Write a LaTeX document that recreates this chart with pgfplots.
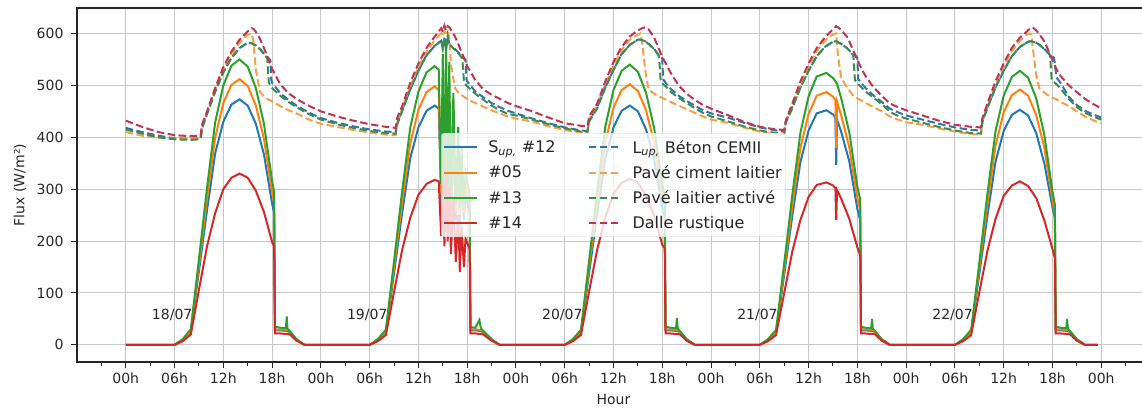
\documentclass[border=0pt]{standalone}
\usepackage{fontspec}
\setmainfont{DejaVu Sans}
\usepackage{pgfplots}
\usepackage{pgfplotstable}
\pgfplotsset{compat=1.18}
\definecolor{cb}{HTML}{1F77B4}
\definecolor{co}{HTML}{FF7F0E}
\definecolor{cg}{HTML}{2CA02C}
\definecolor{cr}{HTML}{D62728}
\definecolor{db}{HTML}{3572A8}
\definecolor{do}{HTML}{F5A048}
\definecolor{dg}{HTML}{3B8C52}
\definecolor{dr}{HTML}{C2334F}

\pgfplotstableread{
h b o g r
0 0 0 0 0
6 0 0 0 0
7 9 9 11 7
8 25 26 30 20
9 142 154 165 106
10 260 282 303 190
11 369 399 429 254
12 430 466 500 300
13 463 501 538 322
14 473 512 550 330
15 461 499 536 322
16 426 461 495 297
17 367 397 426 256
18 272 294 316 198
18.25 255 275 295 190
18.35 28 30 35 22
19 28 30 33 22
19.7 27 29 32 21
19.8 27 29 55 21
19.9 27 29 31 21
20.2 24 25 26 20
21 10 10 11 8
22 0 0 0 0
30 0 0 0 0
31 9 9 11 7
32 24 25 29 19
33 138 150 161 102
34 254 274 296 183
35 360 388 419 245
36 419 453 488 289
37 451 487 525 310
38 461 498 537 318
38.5 455 491 530 315
38.8 270 290 310 210
39.0 468 505 560 322
39.2 240 255 270 190
39.4 478 512 590 328
39.6 250 270 290 200
39.8 440 480 545 305
40.0 235 250 260 175
40.3 400 438 485 285
40.6 240 255 270 160
40.9 350 380 420 250
41.1 235 250 265 140
41.3 330 350 380 230
41.6 240 255 270 150
41.8 290 305 330 205
42.3 255 270 290 185
42.4 28 30 34 22
43 28 30 33 22
43.5 27 29 48 21
43.7 27 29 31 21
44 24 25 27 20
45 10 10 11 8
46 0 0 0 0
54 0 0 0 0
55 9 9 11 7
56 24 25 29 19
57 138 151 162 103
58 254 276 298 184
59 360 391 421 246
60 419 457 491 291
61 451 491 528 312
62 461 502 540 320
63 450 489 526 312
64 415 452 486 288
65 358 389 418 248
66 265 288 310 193
66.3 245 266 287 186
66.4 28 30 35 22
67 28 30 33 22
67.7 27 29 32 21
67.8 27 29 52 21
67.9 27 29 31 21
68.2 24 25 26 20
69 10 10 11 8
70 0 0 0 0
78 0 0 0 0
79 9 9 11 7
80 24 25 29 19
81 135 146 157 100
82 249 268 289 180
83 353 380 409 241
84 413 445 479 285
85 446 480 517 308
86.2 452 487 524 313
87 444 478 514 307
87.3 438 472 508 302
87.4 347 379 505 241
87.5 434 468 503 298
88 411 443 476 282
89 354 381 410 243
90 262 283 305 188
90.35 240 260 280 172
90.45 28 30 35 22
91 28 30 33 22
91.7 27 29 32 21
91.8 27 29 50 21
91.9 27 29 31 21
92.2 24 25 26 20
93 10 10 11 8
94 0 0 0 0
102 0 0 0 0
103 9 9 11 7
104 24 25 29 19
105 136 148 158 101
106 249 271 291 181
107 353 384 412 243
108 412 448 480 287
109 443 481 516 307
110 453 492 528 315
111 442 480 515 306
112 408 443 475 283
113 350 380 405 240
114 265 280 295 185
114.3 244 250 270 167
114.4 28 30 35 22
115 28 30 33 22
115.7 27 29 32 21
115.8 27 29 50 21
115.9 27 29 31 21
116.2 24 25 26 20
117 10 10 11 8
118 0 0 0 0
119.6 0 0 0 0
}\solid

\pgfplotstableread{
h b o g r
0 418 410 415 432
2 410 403 407 420
4 403 399 400 410
6 398 397 396 404
8 397 396 395 402
9.2 398 397 396 403
9.4 420 420 418 425
10 446 448 445 450
11 488 492 488 495
12 525 530 525 535
13 553 560 553 565
14 572 582 572 588
15 582 598 582 604
15.5 581 600 581 610
15.7 579 585 579 609
16 577 530 577 603
16.5 570 488 570 590
17 561 478 560 572
17.4 554 474 552 556
17.6 552 472 505 548
17.8 548 471 500 540
17.9 510 470 497 536
18 505 469 495 532
19 485 460 480 502
20 472 452 468 485
21 461 446 458 474
22 452 438 449 465
23 444 431 441 457
24 437 426 434 450
26 428 420 425 440
28 421 414 418 432
30 415 409 412 425
32 411 405 408 420
33.2 410 404 407 418
33.4 428 428 425 438
34 452 455 450 460
35 492 498 492 505
36 528 535 528 542
37 558 565 558 572
38 576 587 576 594
38.8 586 600 586 610
39.0 575 595 570 603
39.2 590 605 592 615
39.4 570 600 568 606
39.6 592 604 595 614
39.8 580 592 578 612
40.0 576 540 576 607
40.5 570 495 568 594
41 562 484 560 576
41.4 555 480 552 560
41.6 553 478 508 553
41.8 549 476 503 545
41.9 512 475 500 541
42 508 473 498 537
43 488 466 484 510
44 477 459 472 492
45 466 452 461 482
46 458 446 452 474
47 451 440 445 466
48 446 436 442 460
50 436 430 434 450
52 427 421 425 438
54 419 414 417 427
56 413 409 411 422
56.8 412 408 411 421
57.0 432 435 430 440
58 458 462 456 465
59 496 502 496 508
60 530 538 530 545
61 560 568 560 574
62 578 588 578 594
63 588 598 588 606
63.3 588 600 588 608
63.5 587 585 587 610
63.9 585 530 585 612
64.3 580 492 580 608
65 570 484 570 592
65.6 558 479 556 570
65.8 555 477 510 562
66 552 476 505 555
66.1 512 475 502 552
66.5 503 472 497 540
67 494 468 488 525
68 480 461 476 500
69 470 454 466 484
70 461 447 456 472
71 452 440 447 462
72 446 434 440 455
74 438 428 431 443
76 428 419 421 430
78 419 411 413 420
80 413 405 408 415
81.0 412 404 407 414
81.2 430 432 428 432
82 458 462 456 465
83 496 502 496 508
84 528 536 528 542
85 556 566 556 572
86 574 586 574 592
87 584 598 584 608
87.4 585 600 585 614
87.6 583 560 583 612
88 580 515 580 607
88.7 572 496 572 594
89 567 490 567 585
89.5 560 480 558 567
89.7 557 477 510 560
90 553 475 505 550
90.1 512 474 502 546
90.5 504 471 496 532
91 495 466 488 518
92 480 458 476 496
93 468 450 464 480
94 455 440 449 465
95 448 434 441 458
96 442 429 436 452
98 434 424 428 442
100 426 417 420 432
102 419 411 413 424
104 414 406 408 420
105.2 413 405 407 419
105.4 432 435 430 438
106 458 462 456 465
107 496 502 496 508
108 528 536 528 542
109 556 566 556 572
110 574 586 574 592
111 584 600 584 606
111.4 585 598 585 612
111.6 584 570 584 611
112 582 520 582 606
112.4 578 494 578 598
113 570 486 570 585
113.7 560 478 558 560
113.9 557 476 512 552
114.2 553 475 506 541
114.5 515 473 502 531
115 505 468 494 518
116 478 460 474 500
117 462 450 458 487
118 451 440 447 474
119 444 433 440 464
120 438 427 434 456
}\dashed

\tikzset{sl/.style={line width=2pt}, dl/.style={line width=2pt, dash pattern=on 7.5pt off 3.5pt}}

\begin{document}
\begin{tikzpicture}
\begin{axis}[
  at={(0,0)}, anchor=south west, scale only axis,
  width=1073pt, height=354pt,
  xmin=-6, xmax=126, ymin=-33, ymax=649,
  xtick={0,6,...,120},
  xticklabels={00h,06h,12h,18h,00h,06h,12h,18h,00h,06h,12h,18h,00h,06h,12h,18h,00h,06h,12h,18h,00h},
  minor xtick={-3,3,...,123},
  ytick={0,100,...,600},
  tick pos=left, tick align=outside,
  major tick length=6pt, minor tick length=3.5pt,
  every tick/.append style={black!85, line width=1pt},
  grid=major, major grid style={color=black!22, line width=1pt},
  axis line style={line width=1.1pt, black!85},
  tick label style={font=\fontsize{14}{16}\selectfont, text=black!85},
  yticklabel style={xshift=-4pt},
  xticklabel style={yshift=-1.5pt},
  /pgf/number format/assume math mode=true,
  xlabel={Hour}, ylabel={Flux (W/m²)},
  label style={font=\fontsize{14}{16}\selectfont, text=black!85},
  xlabel style={at={(axis description cs:0.5,-0.107)}, anchor=center},
  ylabel style={at={(axis description cs:-0.0531,0.5)}, anchor=center},
  no markers,
  legend columns=2,
  legend cell align=left,
  legend image code/.code={\draw[#1] (0pt,0pt) -- (33pt,0pt);},
  legend style={at={(0.5,0.5)}, anchor=center,
    font=\fontsize{16}{18}\selectfont, text=black!85,
    draw=black!20, rounded corners=3pt, fill=white, fill opacity=0.8,
    draw opacity=1, text opacity=1, inner xsep=2pt, inner ysep=5pt,
    row sep=7pt,
    /tikz/every odd column/.append style={column sep=8pt},
    /tikz/every even column/.append style={column sep=30pt}},
]
\addplot[cb, sl, forget plot] table[x=h, y=b] {\solid};
\addplot[co, sl, forget plot] table[x=h, y=o] {\solid};
\addplot[cg, sl, forget plot] table[x=h, y=g] {\solid};
\addplot[cr, sl, forget plot] table[x=h, y=r] {\solid};
\addplot[db, dl, forget plot] table[x=h, y=b] {\dashed};
\addplot[do, dl, forget plot] table[x=h, y=o] {\dashed};
\addplot[dg, dl, forget plot] table[x=h, y=g] {\dashed};
\addplot[dr, dl, forget plot] table[x=h, y=r] {\dashed};

\addlegendimage{cb, sl}
\addlegendentry{S\textsubscript{\textit{up,}} \#12}
\addlegendimage{db, dl}
\addlegendentry{L\textsubscript{\textit{up,}} Béton CEMII}
\addlegendimage{co, sl}
\addlegendentry{\#05}
\addlegendimage{do, dl}
\addlegendentry{Pavé ciment laitier}
\addlegendimage{cg, sl}
\addlegendentry{\#13}
\addlegendimage{dg, dl}
\addlegendentry{Pavé laitier activé}
\addlegendimage{cr, sl}
\addlegendentry{\#14}
\addlegendimage{dr, dl}
\addlegendentry{Dalle rustique}

\node[anchor=base west, inner sep=0pt, font=\fontsize{14}{16}\selectfont, text=black!85] at (axis cs:3.2,48) {18/07};
\node[anchor=base west, inner sep=0pt, font=\fontsize{14}{16}\selectfont, text=black!85] at (axis cs:27.2,48) {19/07};
\node[anchor=base west, inner sep=0pt, font=\fontsize{14}{16}\selectfont, text=black!85] at (axis cs:51.2,48) {20/07};
\node[anchor=base west, inner sep=0pt, font=\fontsize{14}{16}\selectfont, text=black!85] at (axis cs:75.2,48) {21/07};
\node[anchor=base west, inner sep=0pt, font=\fontsize{14}{16}\selectfont, text=black!85] at (axis cs:99.2,48) {22/07};
\end{axis}
\pgfresetboundingbox
\path[use as bounding box] (-77pt,-50pt) rectangle (1065pt,362pt);
\end{tikzpicture}
\end{document}
